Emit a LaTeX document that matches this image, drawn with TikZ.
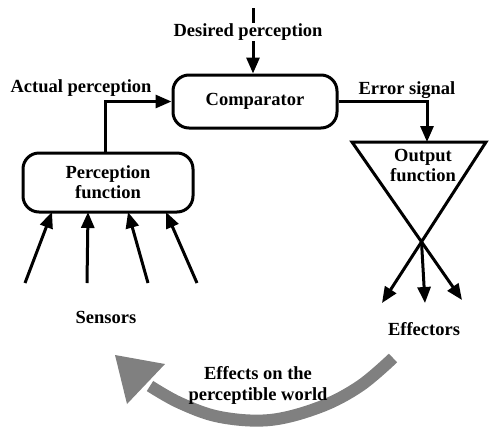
\documentclass[tikz,border=0pt]{standalone}
\usepackage{fontspec}
\setmainfont{Liberation Serif}
\usetikzlibrary{arrows.meta,calc}
\begin{document}
\begin{tikzpicture}[x=1pt,y=-1pt,
  lbl/.style={font=\fontsize{18.5}{20}\selectfont\bfseries, inner sep=1pt, align=center},
  wire/.style={line width=3pt, line join=miter},
  arr/.style={wire, -{Triangle[length=16pt,width=13pt]}},
  roundbox/.style={draw, line width=3pt, rounded corners=16pt, font=\fontsize{18.5}{20}\selectfont\bfseries, align=center, inner sep=0pt},
  stipple/.style={black!50}]
\useasboundingbox (0,0) rectangle (489,429);

% comparator and perception function
\node[roundbox, minimum width=164pt, minimum height=53pt] (cmp) at (255,101.5) {Comparator};
\node[roundbox, minimum width=170pt, minimum height=59pt] (pf) at (108,182.5) {Perception\\function};

% reference signal from above
\coordinate (ref) at (253,8);
\draw[arr] (ref) -- (ref |- cmp.north);
\node[lbl, fill=white] (desired) at (248,32) {Desired perception};

% perceptual signal
\draw[arr] ([xshift=-3pt]pf.north) |- (cmp.west);
\node[lbl] (actual) at (81,88) {Actual perception};

% error signal into the output function
\coordinate (tl) at (352,142);
\coordinate (tr) at (486,142);
\coordinate (ltip) at (382,303);
\coordinate (mtip) at (425,303);
\coordinate (rtip) at (462,300);
\coordinate (eo) at (427,0);
\draw[arr] (cmp.east) -| (eo |- tl);
\node[lbl] (error) at (407,90) {Error signal};

% output function: crossed triangle ending in effector arrows
\draw[wire, {Triangle[length=16pt,width=13pt]}-{Triangle[length=16pt,width=13pt]}] (rtip) -- (tl) -- (tr) -- (ltip);
\coordinate (cross) at (intersection of tl--rtip and tr--ltip);
\draw[arr] (cross) -- (mtip);
\node[lbl] (out) at (423,165) {Output\\function};

% sensors
\coordinate (s1) at (25,283);  \coordinate (t1) at (52,212);
\coordinate (s2) at (87,283);  \coordinate (t2) at (88,212);
\coordinate (s3) at (148,283); \coordinate (t3) at (128,212);
\coordinate (s4) at (197,283); \coordinate (t4) at (166,212);
\foreach \i in {1,...,4} \draw[arr] (s\i) -- (t\i);
\node[lbl] (sensors) at (106,317) {Sensors};
\node[lbl] (effectors) at (424,329) {Effectors};

% loop through the environment
\draw[stipple, line width=12pt]
  plot[smooth, tension=0.6] coordinates {(393,358) (360,386) (320,407) (270,420) (220,417) (180,403) (150,386)};
\fill[stipple] (115,355) -- (165,364) -- (127,404) -- cycle;
\node[lbl] (effects) at (258,385) {Effects on the\\[1pt]perceptible world};
\end{tikzpicture}
\end{document}
